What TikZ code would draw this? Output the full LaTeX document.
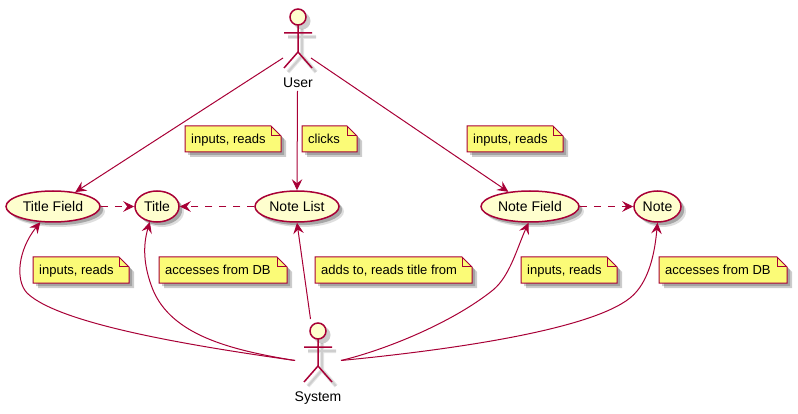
\documentclass[tikz,border=0pt]{standalone}
\usepackage{fontspec}
\setmainfont{Liberation Sans}
\usetikzlibrary{arrows.meta,shapes.geometric,shadows}
\definecolor{umlred}{HTML}{A80036}
\definecolor{umlfill}{HTML}{FEFECE}
\definecolor{notefill}{HTML}{FBFB77}
\tikzset{
  x=1pt,y=-1pt,
  every node/.style={font=\fontsize{14}{16}\selectfont,text=black},
  usecase/.style={ellipse,draw=umlred,line width=1.5pt,fill=umlfill,inner sep=0pt,minimum height=31pt,
    drop shadow={shadow xshift=5pt,shadow yshift=-5pt,fill=black,opacity=.13},
    drop shadow={shadow xshift=3.2pt,shadow yshift=-3.2pt,fill=black,opacity=.25}},
  link/.style={draw=umlred,line width=1pt,-{Stealth[length=11pt,width=10.5pt,inset=4pt]}},
  dashlink/.style={link,dash pattern=on 7pt off 7pt},
  notetext/.style={anchor=base west,inner sep=0pt,font=\fontsize{13}{15}\selectfont},
  noteline/.style={draw=umlred,line width=1pt,fill=notefill,line join=miter},
  noteshadow/.style={fill=black,opacity=.2},
  actorline/.style={draw=umlred,line width=1.5pt},
  actorshadow/.style={draw=black,opacity=.1},
  actorbox/.style={inner sep=0pt,minimum width=28pt,minimum height=60pt},
}
% #1 name, #2 left, #3 top, #4 right, #5 bottom, #6 text
\newcommand{\umlnote}[6]{%
  \fill[noteshadow] (#2+5,#3+5) -- (#4-5,#3+5) -- (#4+5,#3+15) -- (#4+5,#5+5) -- (#2+5,#5+5) -- cycle;
  \fill[noteshadow] (#2+3,#3+3) -- (#4-7,#3+3) -- (#4+3,#3+13) -- (#4+3,#5+3) -- (#2+3,#5+3) -- cycle;
  \path[noteline] (#2,#3) -- (#4-10,#3) -- (#4,#3+10) -- (#4,#5) -- (#2,#5) -- cycle;
  \draw[umlred,line width=1pt] (#4-10,#3) -- (#4-10,#3+10) -- (#4,#3+10);
  \node[notetext] (#1) at (#2+6,#3+18) {#6};
}
% #1 name, #2 cx, #3 head cy, #4 label
\newcommand{\umlactor}[4]{%
  \begin{scope}[shift={(#2+4,#3+4)}]
    \draw[actorshadow,line width=4pt] (-14,16) -- (14,16) (0,8) -- (0,35) (-14,51) -- (0,35) -- (14,51);
    \draw[actorshadow,line width=2pt] (-14,16) -- (14,16) (0,8) -- (0,35) (-14,51) -- (0,35) -- (14,51);
    \fill[black,opacity=.2] (0,0) circle[radius=8.5];
  \end{scope}
  \draw[actorline] (#2,#3+8) -- (#2,#3+35) (#2-14,#3+16) -- (#2+14,#3+16)
    (#2-14,#3+51) -- (#2,#3+35) -- (#2+14,#3+51);
  \draw[actorline,fill=umlfill] (#2,#3) circle[radius=8];
  \node[inner sep=0pt,anchor=base] (#1label) at (#2,#3+70.8) {#4};
  \node[actorbox] (#1) at (#2,#3+22) {};
}
\begin{document}
\begin{tikzpicture}
\useasboundingbox (0,0) rectangle (798,414);

\umlactor{user}{298}{17}{User}
\umlactor{system}{318}{331}{System}

\node[usecase,minimum width=94pt] (titlefield) at (53,206.5) {Title Field};
\node[usecase,minimum width=44pt] (title) at (157,206.5) {Title};
\node[usecase,minimum width=84pt] (notelist) at (297,206.5) {Note List};
\node[usecase,minimum width=98pt] (notefield) at (530,206.5) {Note Field};
\node[usecase,minimum width=47pt] (note) at (657.5,206.5) {Note};

\umlnote{n1}{185}{126}{281}{152}{inputs, reads}
\umlnote{n2}{302}{126}{357}{152}{clicks}
\umlnote{n3}{467}{126}{563}{152}{inputs, reads}
\umlnote{n4}{33}{257}{129}{283}{inputs, reads}
\umlnote{n5}{159}{257}{287}{283}{accesses from DB}
\umlnote{n6}{315}{257}{472}{283}{adds to, reads title from}
\umlnote{n7}{521}{257}{617}{283}{inputs, reads}
\umlnote{n8}{659}{257}{787}{283}{accesses from DB}

\coordinate (userl) at (283,58);
\coordinate (userr) at (311,58);
\coordinate (userb) at (297.5,91);
\coordinate (sysl) at (295,360.5);
\coordinate (sysr) at (341,360.5);
\coordinate (syst) at (310.5,319);

\path[link] (userl) -- (titlefield);
\path[link] (userb) -- (notelist.north);
\path[link] (userr) -- (notefield);

\path[dashlink] (titlefield.east) -- (title.west);
\path[dashlink] (notelist.west) -- (title.east);
\path[dashlink] (notefield.east) -- (note.west);

\path[link] (sysl) .. controls (200,347) and (60,325) .. (27,293) .. controls (15,280) and (18,250) .. (titlefield.-129);
\path[link] (sysl) .. controls (230,350) and (172,335) .. (153,290) .. controls (143,265) and (143,245) .. (title.-115);
\path[link] (syst) -- (notelist.south);
\path[link] (sysr) .. controls (385,350) and (452,323) .. (493,290) .. controls (510,276) and (517,248) .. (notefield.-95);
\path[link] (sysr) .. controls (450,350) and (590,330) .. (630,298) .. controls (650,282) and (655,250) .. (note.south);
\end{tikzpicture}
\end{document}
